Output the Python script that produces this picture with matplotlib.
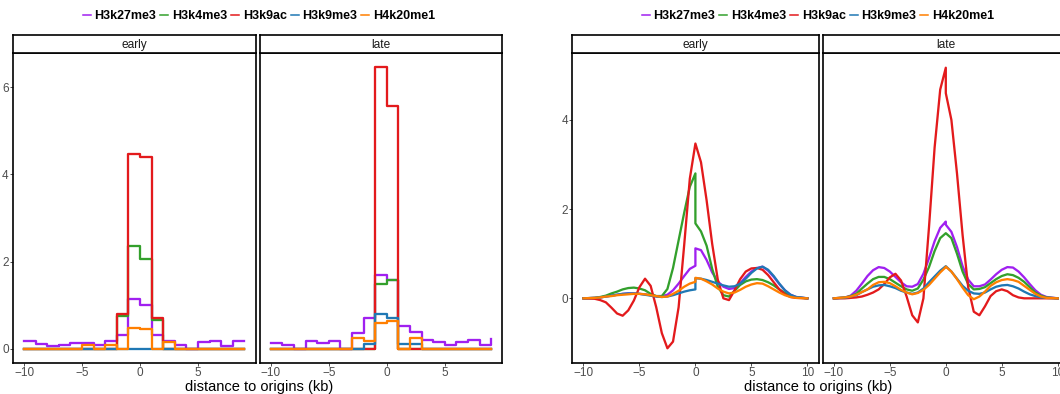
import matplotlib
matplotlib.use("Agg")
import matplotlib.pyplot as plt
from matplotlib.lines import Line2D

plt.rcParams['font.family'] = ['Liberation Sans', 'DejaVu Sans']

# ---------------- data ----------------
marks = ["H3k27me3", "H3k4me3", "H3k9ac", "H3k9me3", "H4k20me1"]
colors = ["#A020F0", "#33A02C", "#E31A1C", "#1F78B4", "#FF7F00"]
panels = ["early", "late"]

# binned profiles (left plot), bin start positions in kb
bin_x = [-10, -9, -8, -7, -6, -5, -4, -3, -2, -1, 0, 1, 2, 3, 4, 5, 6, 7, 8, 9]

early_k27 = [0.18, 0.12, 0.06, 0.10, 0.13, 0.13, 0.08, 0.18, 0.31, 1.14, 1.01, 0.33, 0.19, 0.08, 0.00, 0.15, 0.19, 0.06, 0.17, 0.19]
early_k4 = [0, 0, 0, 0, 0, 0, 0, 0, 0.75, 2.37, 2.07, 0.67, 0, 0, 0, 0, 0, 0, 0, 0]
early_k9ac = [0, 0, 0, 0, 0, 0, 0, 0, 0.80, 4.46, 4.40, 0.70, 0, 0, 0, 0, 0, 0, 0, 0]
early_k9me3 = [0, 0, 0, 0, 0, 0, 0, 0, 0, 0, 0, 0, 0, 0, 0, 0, 0, 0, 0, 0]
early_k20 = [0, 0, 0, 0, 0, 0.10, 0, 0.08, 0, 0.49, 0.46, 0, 0.16, 0, 0, 0, 0, 0, 0, 0]

late_k27 = [0.13, 0.08, 0, 0.17, 0.14, 0.18, 0, 0.37, 0.71, 1.70, 1.58, 0.52, 0.38, 0.21, 0.15, 0.08, 0.15, 0.21, 0.08, 0.23]
late_k4 = [0, 0, 0, 0, 0, 0, 0, 0, 0, 1.49, 1.58, 0, 0, 0, 0, 0, 0, 0, 0, 0]
late_k9ac = [0, 0, 0, 0, 0, 0, 0, 0, 0, 6.46, 5.56, 0, 0, 0, 0, 0, 0, 0, 0, 0]
late_k9me3 = [0, 0, 0, 0, 0, 0, 0, 0, 0.12, 0.81, 0.70, 0.11, 0.11, 0, 0, 0, 0, 0, 0, 0]
late_k20 = [0, 0, 0, 0, 0, 0, 0, 0.24, 0.19, 0.60, 0.63, 0, 0.26, 0, 0, 0, 0, 0, 0, 0]

# smoothed profiles (right plot); 0 appears twice (left / right of origin)
smooth_x = [-10, -9, -8.5, -8, -7.5, -7, -6.5, -6, -5.5, -5, -4.5, -4, -3.5, -3, -2.5, -2, -1.5, -1, -0.5, 0,
            0, 0.5, 1, 1.5, 2, 2.5, 3, 3.5, 4, 4.5, 5, 5.5, 6, 6.5, 7, 7.5, 8, 8.5, 9, 10]

sm_early_k27 = [0, 0.01, 0.02, 0.04, 0.06, 0.08, 0.10, 0.11, 0.11, 0.10, 0.09, 0.07, 0.05, 0.05, 0.08, 0.18, 0.33, 0.50, 0.66, 0.73,
                1.12, 1.08, 0.86, 0.58, 0.38, 0.26, 0.21, 0.23, 0.34, 0.48, 0.60, 0.68, 0.71, 0.62, 0.48, 0.32, 0.18, 0.08, 0.03, 0]
sm_early_k4 = [0, 0.01, 0.03, 0.06, 0.11, 0.15, 0.20, 0.23, 0.24, 0.22, 0.18, 0.10, 0.05, 0.05, 0.21, 0.68, 1.30, 1.92, 2.50, 2.80,
               1.68, 1.50, 1.18, 0.66, 0.26, 0.07, 0.04, 0.17, 0.30, 0.38, 0.42, 0.43, 0.41, 0.36, 0.29, 0.20, 0.12, 0.06, 0.02, 0]
sm_early_k9ac = [0, -0.01, -0.04, -0.09, -0.21, -0.34, -0.39, -0.27, -0.05, 0.25, 0.44, 0.28, -0.20, -0.78, -1.12, -0.97, -0.20, 1.20, 2.68, 3.47,
                 3.47, 3.05, 2.20, 1.22, 0.42, 0.00, -0.04, 0.18, 0.43, 0.60, 0.67, 0.68, 0.64, 0.52, 0.36, 0.20, 0.09, 0.03, 0.01, 0]
sm_early_k9me3 = [0, 0.01, 0.02, 0.04, 0.06, 0.08, 0.10, 0.11, 0.11, 0.10, 0.08, 0.06, 0.04, 0.03, 0.04, 0.07, 0.11, 0.15, 0.18, 0.20,
                  0.45, 0.44, 0.41, 0.37, 0.33, 0.29, 0.26, 0.27, 0.33, 0.44, 0.57, 0.67, 0.71, 0.64, 0.50, 0.33, 0.18, 0.08, 0.03, 0]
sm_early_k20 = [0, 0.01, 0.02, 0.04, 0.05, 0.07, 0.08, 0.09, 0.10, 0.10, 0.09, 0.07, 0.05, 0.03, 0.04, 0.10, 0.17, 0.26, 0.33, 0.37,
                0.46, 0.44, 0.38, 0.31, 0.22, 0.15, 0.11, 0.13, 0.19, 0.26, 0.31, 0.34, 0.33, 0.27, 0.20, 0.13, 0.07, 0.03, 0.01, 0]

sm_late_k27 = [0, 0.02, 0.06, 0.17, 0.33, 0.50, 0.63, 0.70, 0.68, 0.60, 0.48, 0.36, 0.27, 0.26, 0.32, 0.55, 0.90, 1.28, 1.58, 1.72,
               1.65, 1.49, 1.15, 0.72, 0.42, 0.27, 0.27, 0.31, 0.42, 0.54, 0.64, 0.70, 0.69, 0.60, 0.47, 0.32, 0.18, 0.08, 0.03, 0]
sm_late_k4 = [0, 0.02, 0.05, 0.10, 0.22, 0.33, 0.43, 0.48, 0.48, 0.43, 0.35, 0.27, 0.20, 0.17, 0.22, 0.42, 0.70, 1.06, 1.35, 1.46,
              1.46, 1.35, 1.00, 0.60, 0.32, 0.20, 0.21, 0.25, 0.34, 0.43, 0.50, 0.54, 0.52, 0.46, 0.37, 0.25, 0.13, 0.06, 0.02, 0]
sm_late_k9ac = [0, 0.00, 0.01, 0.02, 0.04, 0.08, 0.13, 0.20, 0.32, 0.47, 0.55, 0.40, 0.04, -0.38, -0.54, 0.00, 1.60, 3.38, 4.68, 5.17,
                4.60, 4.00, 2.80, 1.42, 0.25, -0.30, -0.38, -0.18, 0.05, 0.16, 0.20, 0.16, 0.07, 0.02, 0, 0, 0, 0, 0, 0]
sm_late_k9me3 = [0, 0.01, 0.04, 0.07, 0.14, 0.20, 0.26, 0.29, 0.30, 0.27, 0.23, 0.17, 0.13, 0.10, 0.13, 0.22, 0.36, 0.49, 0.62, 0.72,
                 0.72, 0.60, 0.44, 0.28, 0.17, 0.11, 0.10, 0.13, 0.20, 0.26, 0.29, 0.30, 0.27, 0.22, 0.15, 0.09, 0.05, 0.02, 0.01, 0]
sm_late_k20 = [0, 0.02, 0.04, 0.08, 0.14, 0.20, 0.30, 0.36, 0.37, 0.34, 0.27, 0.19, 0.13, 0.09, 0.12, 0.19, 0.30, 0.44, 0.58, 0.70,
               0.71, 0.60, 0.43, 0.24, 0.07, -0.02, 0.04, 0.15, 0.28, 0.36, 0.41, 0.43, 0.41, 0.37, 0.28, 0.19, 0.10, 0.04, 0.01, 0]

step_series = {"early": [early_k27, early_k4, early_k9ac, early_k9me3, early_k20],
               "late": [late_k27, late_k4, late_k9ac, late_k9me3, late_k20]}
smooth_series = {"early": [sm_early_k27, sm_early_k4, sm_early_k9ac, sm_early_k9me3, sm_early_k20],
                 "late": [sm_late_k27, sm_late_k4, sm_late_k9ac, sm_late_k9me3, sm_late_k20]}

# ---------------- layout ----------------
W, H = 1060, 394
fig = plt.figure(figsize=(W / 100, H / 100), dpi=100)
fig.patch.set_facecolor("white")

PANEL_TOP, PANEL_BOT = 53, 363
STRIP_TOP = 35
LW = 1.65


def add_px_axes(x0, x1, y0, y1):
    return fig.add_axes([x0 / W, 1 - y1 / H, (x1 - x0) / W, (y1 - y0) / H])


def style_panel(ax, xlim, ylim, xticks, yticks, show_y):
    ax.set_xlim(*xlim)
    ax.set_ylim(*ylim)
    ax.set_xticks(xticks)
    ax.set_yticks(yticks)
    if not show_y:
        ax.tick_params(axis="y", left=False, labelleft=False)
    for s in ax.spines.values():
        s.set_linewidth(1.2)
        s.set_color("black")
    ax.tick_params(direction="out", length=2.2, width=0.6, color="#333333",
                   labelsize=8.5, labelcolor="#4D4D4D", pad=0.9)
    ax.set_facecolor("white")


def add_strip(x0, x1, label):
    sax = add_px_axes(x0, x1, STRIP_TOP, PANEL_TOP)
    sax.set_xticks([])
    sax.set_yticks([])
    for s in sax.spines.values():
        s.set_linewidth(1.2)
        s.set_color("black")
    sax.text(0.5, 0.45, label, ha="center", va="center", fontsize=8.6,
             color="#1A1A1A", transform=sax.transAxes)


def add_legend(cx):
    handles = [Line2D([], [], color=c, lw=1.1) for c in colors]
    fig.legend(handles, marks, loc="center", bbox_to_anchor=(cx / W, 1 - 16 / H),
               ncol=5, frameon=False, handlelength=0.65, handletextpad=0.3,
               columnspacing=0.3, borderpad=0, borderaxespad=0,
               prop={"weight": "bold", "size": 9})


# left plot: binned step profiles
step_max = max(max(v) for p in panels for v in step_series[p])
step_min = min(min(v) for p in panels for v in step_series[p])
yr = step_max - step_min
left_ylim = (step_min - 0.05 * yr, step_max + 0.05 * yr)
xr = bin_x[-1] - bin_x[0]
left_xlim = (bin_x[0] - 0.05 * xr, bin_x[-1] + 0.05 * xr)

left_bounds = [(13, 255.5), (259.7, 502.3)]
for i, p in enumerate(panels):
    x0, x1 = left_bounds[i]
    ax = add_px_axes(x0, x1, PANEL_TOP, PANEL_BOT)
    for vals, c in zip(step_series[p], colors):
        ax.step(bin_x, vals, where="post", color=c, lw=LW)
    style_panel(ax, left_xlim, left_ylim, [-10, -5, 0, 5], [0, 2, 4, 6], i == 0)
    add_strip(x0, x1, p)

# right plot: smoothed profiles
sx_r = smooth_x[-1] - smooth_x[0]
right_xlim = (smooth_x[0] - 0.05 * sx_r, smooth_x[-1] + 0.05 * sx_r)
right_ylim = (-1.45, 5.5)
right_bounds = [(572.3, 818.5), (822.7, 1068.9)]
for i, p in enumerate(panels):
    x0, x1 = right_bounds[i]
    ax = add_px_axes(x0, x1, PANEL_TOP, PANEL_BOT)
    for vals, c in zip(smooth_series[p], colors):
        ax.plot(smooth_x, vals, color=c, lw=LW, solid_joinstyle="round")
    style_panel(ax, right_xlim, right_ylim, [-10, -5, 0, 5, 10], [0, 2, 4], i == 0)
    add_strip(x0, x1, p)

# axis titles and legends
for cx in (259, 818):
    fig.text(cx / W, 1 - 387.5 / H, "distance to origins (kb)", ha="center", va="center",
             fontsize=10.5, color="black")
    add_legend(cx)

fig.savefig("out.png", dpi=100)
